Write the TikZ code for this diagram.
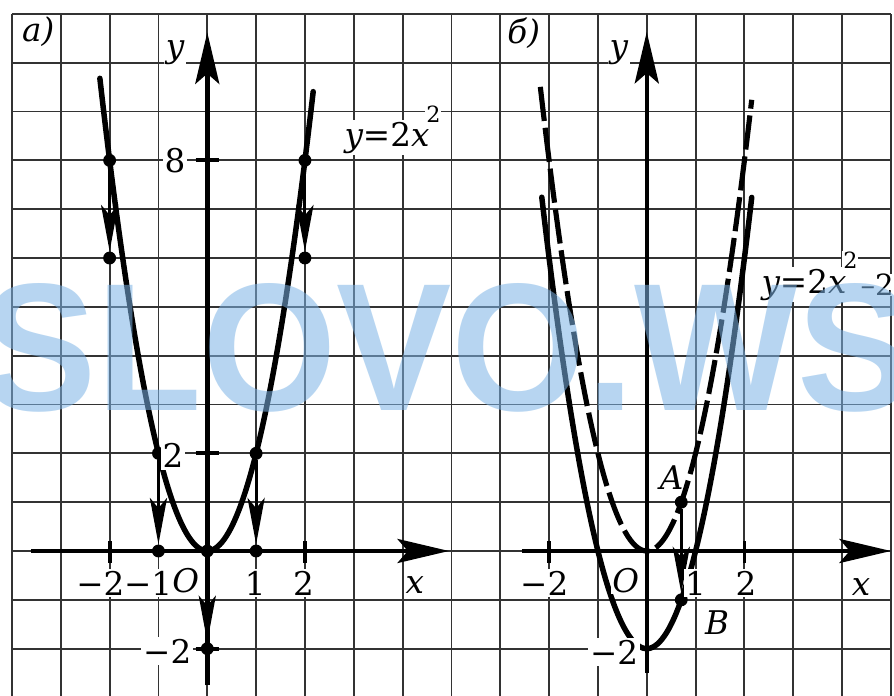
\documentclass[tikz,border=0pt]{standalone}
\usepackage{fontspec}
\setmainfont{DejaVu Serif}
\newfontfamily\wmfont{Liberation Sans}
\usetikzlibrary{arrows.meta}
\definecolor{wmblue}{RGB}{125,180,230}
\begin{document}
\begin{tikzpicture}[
  gridline/.style={line width=1.1pt, black!80},
  axis/.style={line width=2.6pt, -{Stealth[length=30pt,width=14pt,inset=6pt]}},
  curve/.style={line width=3.2pt, line cap=round},
  dcurve/.style={line width=3pt, dash pattern=on 20pt off 4pt},
  shiftarr/.style={line width=1.8pt, -{Stealth[length=27pt,width=10pt,inset=6pt]}},
  dot/.style={circle, fill=black, inner sep=0pt, minimum size=7.5pt},
  lbl/.style={fill=white, inner sep=1pt, font=\fontsize{19}{22}\selectfont},
  sup/.style={fill=white, inner sep=0.5pt, font=\fontsize{13}{15}\selectfont},
  tickmark/.style={line width=2.2pt},
  wm/.style={font=\wmfont\bfseries\fontsize{106}{106}\selectfont, text=wmblue, text opacity=0.55, xscale=0.95, inner sep=0pt},
]
\useasboundingbox (-4.245,-2.949) rectangle (14.063,11.284);
\clip (-4.245,-2.949) rectangle (14.063,11.284);
\fill[white] (-4.245,-2.949) rectangle (14.063,11.284);
% grid
\foreach \i in {-4,...,14} \draw[gridline] (\i,-3) -- (\i,11);
\foreach \j in {-2,...,11} \draw[gridline] (-4,\j) -- (14,\j);

% ---------- panel a ----------
\coordinate (ax0) at (-3.6,0);
\coordinate (ax1) at (4.95,0);
\coordinate (ay0) at (0,-2.75);
\coordinate (ay1) at (0,10.62);
\draw[axis] (ax0) -- (ax1);
\draw[axis] (ay0) -- (ay1);
\draw[tickmark] (-2,0.2) -- (-2,-0.25);
\draw[tickmark] (2,0.2) -- (2,-0.25);
\draw[tickmark] (-0.24,8) -- (0.24,8);
\draw[tickmark] (-0.24,2) -- (0.24,2);
\draw[tickmark] (-0.24,-2) -- (0.24,-2);

\draw[curve] plot[domain=-2.2:2.17, samples=90, smooth] (\x,{2*\x*\x});

\node[dot] (a1) at (-2,8) {};
\node[dot] (a2) at (2,8) {};
\node[dot] (b1) at (-2,6) {};
\node[dot] (b2) at (2,6) {};
\node[dot] (c1) at (-1,2) {};
\node[dot] (c2) at (1,2) {};
\node[dot] (d1) at (-1,0) {};
\node[dot] (d2) at (1,0) {};
\node[dot] (e1) at (0,0) {};
\node[dot] (e2) at (0,-2) {};
\draw[shiftarr] (a1) -- (b1);
\draw[shiftarr] (a2) -- (b2);
\draw[shiftarr] (c1) -- (d1);
\draw[shiftarr] (c2) -- (d2);
\draw[shiftarr] (e1) -- (e2);

\node[lbl, fill=none] (la) at (-3.46,10.63) {\itshape а)};
\node[lbl] (ly) at (-0.66,10.2) {\itshape y};
\node[lbl] (l8) at (-0.66,8.0) {8};
\node[lbl] (l2) at (-0.7,1.95) {2};
\node[lbl] (lm2) at (-0.82,-2.05) {−2};
\node[lbl] (xm2) at (-2.19,-0.66) {−2};
\node[lbl] (xm1) at (-1.21,-0.66) {−1};
\node[lbl] (lo) at (-0.44,-0.6) {\itshape O};
\node[lbl] (x1) at (0.98,-0.66) {1};
\node[lbl] (x2) at (1.97,-0.66) {2};
\node[lbl] (lx) at (4.25,-0.7) {\itshape x};
\node[lbl] (eqa) at (3.68,8.46) {\itshape y\upshape=2\itshape x};
\node[sup] (eqas) at (4.63,8.95) {2};

% ---------- panel b ----------
\coordinate (bx0) at (6.44,0);
\coordinate (bx1) at (14.0,0);
\coordinate (by0) at (9,-2.5);
\coordinate (by1) at (9,10.63);
\draw[axis] (bx0) -- (bx1);
\draw[axis] (by0) -- (by1);
\draw[tickmark] (7,0.2) -- (7,-0.25);
\draw[tickmark] (11,0.2) -- (11,-0.25);

\draw[dcurve] plot[domain=-2.18:2.15, samples=90, smooth] ({9+\x},{2*\x*\x});
\draw[curve] plot[domain=-2.15:2.15, samples=90, smooth] ({9+\x},{2*\x*\x-2});

\node[dot] (pA) at (9.707,1) {};
\node[dot] (pB) at (9.707,-1) {};
\draw[shiftarr] (pA) -- (pB);

\node[lbl, fill=none] (lb) at (6.48,10.6) {\itshape б)};
\node[lbl] (ly2) at (8.43,10.2) {\itshape y};
\node[lbl] (bxm2) at (6.9,-0.66) {−2};
\node[lbl] (lo2) at (8.57,-0.6) {\itshape O};
\node[lbl] (bx1l) at (10.0,-0.66) {1};
\node[lbl] (bx2l) at (11.03,-0.66) {2};
\node[lbl] (lx2) at (13.39,-0.73) {\itshape x};
\node[lbl] (bym2) at (8.33,-2.07) {−2};
\node[lbl, fill=none] (lA) at (9.51,1.51) {\itshape A};
\node[lbl] (lB) at (10.44,-1.47) {\itshape B};
\node[lbl] (eqb) at (12.22,5.45) {\itshape y\upshape=2\itshape x};
\node[sup] (eqbs) at (13.17,5.95) {2};
\node[lbl, anchor=west, inner sep=0pt, font=\fontsize{17}{20}\selectfont] (eqbm) at (13.37,5.45) {–2};

% watermark
\node[wm] (wmark) at (4.91,4.16) {SLOVO.WS};
\end{tikzpicture}
\end{document}
